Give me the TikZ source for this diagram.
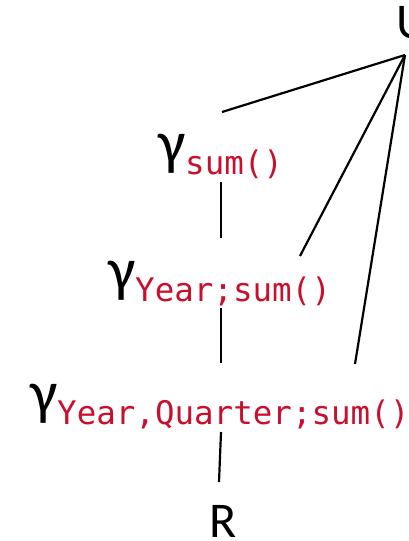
\documentclass[tikz,border=0pt]{standalone}
\usepackage{fontspec}
\setmainfont{Carlito}
\newfontfamily\subfont{DejaVu Sans Mono}
\definecolor{subred}{RGB}{200,16,46}
\newcommand{\gam}{{\fontsize{61}{70}\selectfont γ}}
\newcommand{\subs}[1]{\raisebox{-11pt}{\fontsize{32.5}{38}\subfont\color{subred}#1}}
\begin{document}
\begin{tikzpicture}[x=1pt,y=-1pt,
  lbl/.style={anchor=base west,inner sep=0pt,outer sep=0pt},
  big/.style={inner sep=0pt,outer sep=0pt,font=\fontsize{50}{60}\selectfont},
  edge/.style={line width=2.2pt}]
\useasboundingbox (0,0) rectangle (408,541);
\node[big,anchor=base west] (u) at (396,38) {U};
\node[big,anchor=base] (r) at (223,537) {R};
\node[lbl] (g1) at (158,163) {\gam\subs{sum()}};
\node[lbl] (g2) at (108,290) {\gam\subs{Year;sum()}};
\node[lbl] (g3) at (30,413) {\gam\subs{Year,Quarter;sum()}};
\coordinate (uc) at (405,55);
\coordinate (g1t) at (222,112);
\coordinate (g1b) at (221,182);
\coordinate (g2t) at (221,238);
\coordinate (g2r) at (300,256);
\coordinate (g2b) at (221,308);
\coordinate (g3t) at (221,363);
\coordinate (g3r) at (355,364);
\coordinate (g3b) at (221,432);
\coordinate (rt) at (219,482);
\draw[edge] (uc) -- (g1t);
\draw[edge] (uc) -- (g2r);
\draw[edge] (uc) -- (g3r);
\draw[edge] (g1b) -- (g2t);
\draw[edge] (g2b) -- (g3t);
\draw[edge] (g3b) -- (rt);
\end{tikzpicture}
\end{document}
